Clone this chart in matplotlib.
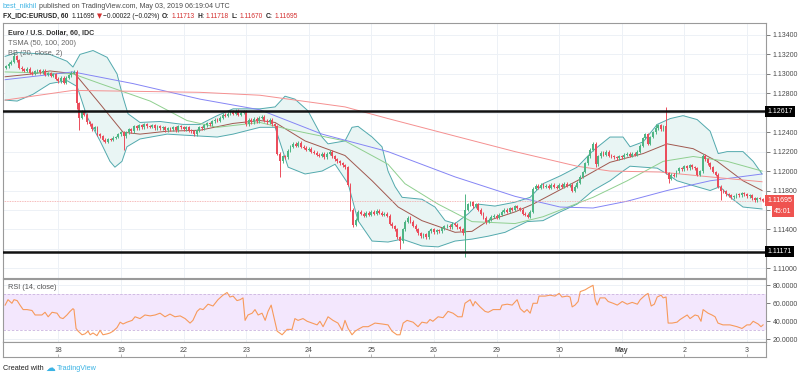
import numpy as np
import matplotlib
matplotlib.use('Agg')
import matplotlib.pyplot as plt
from matplotlib.transforms import blended_transform_factory

plt.rcParams['font.family'] = ['Liberation Sans', 'DejaVu Sans']

# hourly closes, bar index 0 = 18 Apr 00:00 (first bar -20 = 17 Apr 04:00)
closes_17 = [1.13080, 1.13105, 1.13125, 1.13180, 1.13140, 1.13065, 1.13045, 1.13030, 1.13055, 1.13010,
             1.13000, 1.13025, 1.13040, 1.13015, 1.13030, 1.12990, 1.13005, 1.12980, 1.12995, 1.12950]
closes_18 = [1.12925, 1.12960, 1.12910, 1.12960, 1.12985, 1.13010, 1.13020, 1.12700, 1.12550, 1.12610,
             1.12580, 1.12500, 1.12480, 1.12430, 1.12450, 1.12380, 1.12360, 1.12320, 1.12300, 1.12330,
             1.12320, 1.12345, 1.12350, 1.12380]
closes_19 = [1.12400, 1.12360, 1.12400, 1.12430, 1.12410, 1.12460, 1.12440, 1.12470, 1.12450, 1.12480,
             1.12460, 1.12455, 1.12470, 1.12440, 1.12460, 1.12440, 1.12450, 1.12420, 1.12440, 1.12430,
             1.12450, 1.12420, 1.12460, 1.12450]
closes_22 = [1.12430, 1.12450, 1.12420, 1.12410, 1.12380, 1.12420, 1.12450, 1.12440, 1.12470, 1.12490,
             1.12480, 1.12510, 1.12530, 1.12520, 1.12550, 1.12580, 1.12570, 1.12590, 1.12610, 1.12590,
             1.12620, 1.12580, 1.12600, 1.12610]
closes_23 = [1.12480, 1.12530, 1.12500, 1.12540, 1.12510, 1.12550, 1.12560, 1.12520, 1.12500, 1.12530,
             1.12480, 1.12460, 1.12180, 1.12100, 1.12150, 1.12140, 1.12210, 1.12250, 1.12280, 1.12260,
             1.12290, 1.12250, 1.12240, 1.12220]
closes_24 = [1.12230, 1.12200, 1.12190, 1.12170, 1.12160, 1.12180, 1.12140, 1.12180, 1.12200, 1.12150,
             1.12120, 1.12100, 1.12080, 1.12060, 1.12040, 1.11860, 1.11600, 1.11450, 1.11500, 1.11580,
             1.11560, 1.11540, 1.11570, 1.11550]
closes_25 = [1.11580, 1.11560, 1.11590, 1.11570, 1.11550, 1.11560, 1.11540, 1.11460, 1.11430, 1.11400,
             1.11320, 1.11280, 1.11400, 1.11480, 1.11520, 1.11480, 1.11440, 1.11400, 1.11360, 1.11330,
             1.11350, 1.11320, 1.11380, 1.11400]
closes_26 = [1.11370, 1.11390, 1.11380, 1.11410, 1.11430, 1.11440, 1.11420, 1.11460, 1.11450, 1.11420,
             1.11400, 1.11360, 1.11600, 1.11660, 1.11680, 1.11640, 1.11660, 1.11600, 1.11560, 1.11520,
             1.11480, 1.11500, 1.11530, 1.11540]
closes_29 = [1.11520, 1.11550, 1.11580, 1.11600, 1.11580, 1.11620, 1.11600, 1.11640, 1.11620, 1.11600,
             1.11560, 1.11550, 1.11530, 1.11580, 1.11820, 1.11850, 1.11830, 1.11860, 1.11840, 1.11850,
             1.11830, 1.11860, 1.11840, 1.11830]
closes_30 = [1.11860, 1.11840, 1.11870, 1.11850, 1.11860, 1.11800, 1.11840, 1.11880, 1.11940, 1.11990,
             1.12080, 1.12150, 1.12220, 1.12280, 1.12070, 1.12150, 1.12190, 1.12170, 1.12200, 1.12160,
             1.12150, 1.12140, 1.12130, 1.12150]
closes_01 = [1.12140, 1.12170, 1.12180, 1.12160, 1.12180, 1.12170, 1.12200, 1.12260, 1.12340, 1.12380,
             1.12280, 1.12350, 1.12400, 1.12440, 1.12470, 1.12430, 1.12460, 1.11980, 1.11920, 1.11960,
             1.11950, 1.12000, 1.12030, 1.12020]
closes_02 = [1.12050, 1.12030, 1.12060, 1.12040, 1.12030, 1.11960, 1.12000, 1.12160, 1.12120, 1.12080,
             1.12040, 1.11990, 1.11960, 1.11840, 1.11800, 1.11790, 1.11760, 1.11750, 1.11730, 1.11740,
             1.11760, 1.11750, 1.11770, 1.11760]
closes_03 = [1.11740, 1.11750, 1.11720, 1.11700, 1.11720, 1.11713, 1.11695]
first_open = 1.13060

# notable wicks (bar index -> price)
spike_high = {-17: 1.13215, 7: 1.13040, 156: 1.11760, 205: 1.12300, 229: 1.12480, 233: 1.12660}
spike_low = {7: 1.12640, 8: 1.12420, 25: 1.12220, 85: 1.11940, 113: 1.11420, 131: 1.11200,
             156: 1.11120, 164: 1.11460, 206: 1.12040, 234: 1.11880, 254: 1.11700}

# Bollinger bands (20, close, 2) and TSMA lines (bar index, price)
bb_up_x = [-20.4, -15.8, -3.2, 3.3, 5.6, 8.3, 13.3, 18.7, 22.5, 24.8, 26.7, 31.3, 39.0, 47.8, 54.3,
           60.9, 67.0, 77.3, 83.1, 86.9, 90.7, 95.7, 101.1, 103.4, 109.9, 112.6, 114.9, 120.3, 124.1,
           126.4, 129.1, 131.8, 139.4, 144.4, 148.3, 152.1, 157.1, 160.9, 167.4, 175.1, 180.9, 185.8,
           192.4, 198.9, 205.0, 211.5, 216.5, 219.2, 224.2, 229.6, 234.6, 239.5, 244.9, 249.9, 253.0,
           256.4, 262.5, 266.4, 269.8]
bb_up = [1.1318, 1.1322, 1.1320, 1.1313, 1.1307, 1.1320, 1.1324, 1.1317, 1.1300, 1.1276, 1.1259,
         1.1250, 1.1251, 1.1248, 1.1248, 1.1257, 1.1264, 1.1264, 1.1266, 1.1277, 1.1274, 1.1262,
         1.1235, 1.1228, 1.1231, 1.1245, 1.1246, 1.1235, 1.1225, 1.1200, 1.1184, 1.1173, 1.1171,
         1.1163, 1.1149, 1.1146, 1.1156, 1.1166, 1.1164, 1.1168, 1.1173, 1.1187, 1.1195, 1.1204,
         1.1221, 1.1235, 1.1235, 1.1225, 1.1230, 1.1248, 1.1254, 1.1257, 1.1253, 1.1241, 1.1218,
         1.1220, 1.1220, 1.1210, 1.1197]
bb_lo_x = [-20.4, -15.8, -9.7, -3.2, 3.3, 7.2, 11.0, 16.0, 19.8, 21.7, 24.4, 26.3, 31.3, 41.7, 54.3,
           60.9, 67.0, 77.3, 83.1, 88.1, 94.6, 101.1, 106.1, 111.1, 114.9, 120.3, 126.4, 131.8, 139.4,
           145.6, 152.1, 158.6, 164.8, 171.3, 175.1, 179.7, 185.8, 192.4, 198.9, 205.0, 211.5, 216.5,
           219.2, 224.2, 229.6, 233.4, 237.2, 243.4, 249.9, 253.7, 257.6, 262.5, 269.8]
bb_lo = [1.1273, 1.1272, 1.1279, 1.1290, 1.1293, 1.1287, 1.1256, 1.1231, 1.1210, 1.1204, 1.1210,
         1.1225, 1.1233, 1.1238, 1.1236, 1.1235, 1.1238, 1.1245, 1.1245, 1.1204, 1.1197, 1.1200,
         1.1207, 1.1187, 1.1149, 1.1128, 1.1127, 1.1130, 1.1123, 1.1122, 1.1128, 1.1130, 1.1133,
         1.1137, 1.1142, 1.1148, 1.1149, 1.1158, 1.1166, 1.1180, 1.1190, 1.1200, 1.1205, 1.1204,
         1.1203, 1.1197, 1.1190, 1.1185, 1.1180, 1.1184, 1.1173, 1.1163, 1.1161]
bb_mid_x = [-20.4, -9.7, -3.2, 6.4, 16.0, 24.8, 31.3, 41.7, 54.3, 67.0, 77.3, 83.1, 94.6, 109.9,
            120.3, 130.3, 139.4, 152.1, 158.6, 164.8, 175.1, 182.0, 198.9, 211.5, 224.2, 233.4, 243.4,
            252.6, 262.5, 269.8]
bb_mid = [1.1297, 1.1300, 1.1303, 1.1300, 1.1269, 1.1240, 1.1238, 1.1241, 1.1242, 1.1249, 1.1252,
          1.1250, 1.1231, 1.1216, 1.1190, 1.1163, 1.1149, 1.1137, 1.1138, 1.1149, 1.1158, 1.1166,
          1.1190, 1.1209, 1.1218, 1.1228, 1.1223, 1.1210, 1.1190, 1.1180]
ma50_x = [-20.4, 5.6, 16.0, 35.2, 49.3, 60.9, 77.3, 88.1, 109.9, 126.4, 132.9, 145.6, 158.6, 175.1,
          185.8, 205.0, 218.1, 231.9, 243.4, 256.4, 269.8]
ma50 = [1.1302, 1.1300, 1.1290, 1.1272, 1.1252, 1.1245, 1.1250, 1.1243, 1.1231, 1.1207, 1.1187,
        1.1166, 1.1148, 1.1146, 1.1153, 1.1173, 1.1190, 1.1210, 1.1215, 1.1210, 1.1200]
ma100_x = [-20.4, 5.6, 28.6, 54.3, 77.3, 101.1, 126.4, 152.1, 175.1, 192.4, 205.0, 218.1, 233.4,
           249.9, 269.8]
ma100 = [1.1294, 1.1302, 1.1290, 1.1274, 1.1263, 1.1238, 1.1220, 1.1194, 1.1174, 1.1163, 1.1162,
         1.1169, 1.1180, 1.1190, 1.1197]
ma200_x = [-20.4, 5.6, 54.3, 77.3, 109.9, 126.4, 152.1, 175.1, 198.9, 211.5, 230.7, 249.9, 269.8]
ma200 = [1.1273, 1.1283, 1.1281, 1.1278, 1.1266, 1.1254, 1.1236, 1.1220, 1.1205, 1.1200, 1.1199,
         1.1194, 1.1189]

# RSI (14, close)
rsi_x = [-20.4, -19.3, -17.8, -17.0, -15.8, -14.7, -13.5, -12.0, -10.1, -8.9, -6.3, -5.1, -3.9, -2.4,
         -0.5, 0.7, 1.8, 3.3, 4.5, 5.6, 6.0, 6.8, 7.6, 9.1, 10.2, 11.4, 12.2, 13.3, 14.8, 16.0, 17.1,
         18.7, 19.8, 21.0, 22.5, 23.7, 24.8, 26.3, 28.3, 29.4, 31.3, 33.2, 35.2, 37.1, 39.0, 40.9,
         42.8, 44.7, 46.7, 48.6, 50.5, 51.6, 53.2, 54.3, 55.5, 57.4, 59.3, 61.2, 63.1, 64.7, 65.8,
         67.0, 68.5, 69.7, 70.8, 71.6, 72.7, 74.3, 75.4, 76.6, 78.1, 79.3, 80.4, 81.6, 82.3, 83.9,
         85.8, 87.7, 89.6, 90.7, 91.9, 93.8, 95.4, 97.3, 99.2, 100.3, 101.5, 103.4, 105.3, 107.2,
         108.8, 109.9, 111.1, 112.6, 113.8, 114.9, 116.8, 118.8, 121.4, 124.1, 126.4, 127.9, 129.8,
         131.0, 132.2, 133.7, 136.0, 137.9, 139.4, 141.3, 142.5, 143.6, 145.6, 147.5, 149.4, 151.3,
         153.2, 154.8, 155.9, 157.9, 159.0, 159.8, 161.7, 163.6, 164.8, 166.7, 169.4, 170.1, 172.1,
         174.0, 175.9, 177.1, 178.6, 179.7, 180.9, 182.0, 183.6, 184.3, 186.6, 188.5, 190.4, 192.0,
         193.1, 195.1, 196.2, 197.0, 198.1, 199.3, 200.1, 202.0, 203.1, 205.0, 205.8, 206.6, 207.7,
         209.6, 210.8, 212.7, 214.3, 216.2, 218.1, 220.0, 222.0, 223.1, 225.0, 226.1, 227.3, 228.5,
         229.6, 231.1, 231.9, 233.0, 233.8, 235.3, 237.2, 238.4, 239.5, 241.1, 242.2, 244.1, 245.3,
         246.4, 247.2, 249.1, 250.6, 251.8, 252.9, 254.8, 257.5, 260.2, 262.1, 264.0, 265.2, 266.4,
         268.3, 269.4, 270.2]
rsi_val = [58, 64, 60, 64, 63, 58, 53, 53, 52, 47, 47, 50, 45, 50, 49, 44, 43, 47, 51, 54, 53, 32,
           29, 25, 26, 29, 25, 27, 24, 30, 25, 26, 27, 29, 33, 39, 37, 39, 41, 45, 43, 47, 46, 47,
           49, 45, 48, 45, 46, 43, 38, 41, 51, 54, 53, 59, 57, 64, 69, 72, 67, 68, 63, 64, 66, 41,
           47, 49, 53, 47, 49, 41, 51, 58, 49, 29, 25, 31, 31, 43, 41, 43, 40, 38, 36, 40, 34, 45,
           41, 38, 30, 41, 32, 25, 29, 31, 34, 34, 38, 37, 36, 29, 25, 25, 38, 41, 39, 34, 39, 38,
           42, 40, 45, 44, 51, 49, 45, 45, 60, 64, 57, 62, 56, 51, 50, 53, 53, 58, 59, 58, 64, 54,
           50, 53, 49, 60, 60, 68, 68, 69, 68, 71, 67, 68, 67, 56, 58, 62, 73, 75, 77, 80, 64, 58,
           66, 66, 62, 60, 58, 62, 59, 61, 59, 64, 69, 71, 57, 59, 67, 69, 66, 67, 38, 38, 39, 42,
           44, 47, 43, 47, 46, 40, 53, 49, 47, 45, 38, 36, 36, 34, 32, 36, 36, 40, 37, 34, 36]

date_pos = [0, 24, 48, 72, 96, 120, 144, 168, 192, 216, 240, 264]
date_labels = ['18', '19', '22', '23', '24', '25', '26', '29', '30', 'May', '2', '3']
price_ticks = [1.110, 1.112, 1.114, 1.116, 1.118, 1.120, 1.122, 1.124, 1.126, 1.128, 1.130, 1.132, 1.134]
level_hi, level_lo, last_price = 1.12617, 1.11171, 1.11695

closes = np.array(closes_17 + closes_18 + closes_19 + closes_22 + closes_23 + closes_24 + closes_25
                  + closes_26 + closes_29 + closes_30 + closes_01 + closes_02 + closes_03)
idx = np.arange(-20, -20 + len(closes))
opens = np.r_[first_open, closes[:-1]]
highs = np.maximum(opens, closes) + 0.00015
lows = np.minimum(opens, closes) - 0.00015
for k, v in spike_high.items():
    highs[k + 20] = v
for k, v in spike_low.items():
    lows[k + 20] = v

UP, DOWN = '#4fb585', '#eb4d5c'
GRID = '#edf1f6'
FRAME = '#9a9a9a'
TXT = '#4a4a4a'

W, H = 800, 378
def box(l, t, r, b):
    return [l / W, 1 - b / H, (r - l) / W, (b - t) / H]

fig = plt.figure(figsize=(8, 3.78), dpi=100)
ax = fig.add_axes(box(3.3, 23.3, 765.7, 278))
ax_rsi = fig.add_axes(box(3.3, 279, 765.7, 341.7), sharex=ax)
ax_d = fig.add_axes(box(3.3, 341.7, 765.7, 357), sharex=ax)

# main pane
ax.set_xlim(-21.1, 271.2)
ax.set_ylim(1.1090, 1.1352)
for p in date_pos:
    ax.axvline(p, color=GRID, lw=0.7, zorder=0)
    ax_rsi.axvline(p, color=GRID, lw=0.7, zorder=0)
for p in price_ticks:
    ax.axhline(p, color=GRID, lw=0.7, zorder=0)

ax.fill(bb_up_x + bb_lo_x[::-1], bb_up + bb_lo[::-1], color='#e9f5f4', zorder=1, lw=0)
ax.plot(bb_up_x, bb_up, color='#52a9ad', lw=0.7, zorder=2)
ax.plot(bb_lo_x, bb_lo, color='#52a9ad', lw=0.7, zorder=2)
ax.plot(bb_mid_x, bb_mid, color='#a0584f', lw=0.7, zorder=2)
ax.plot(ma50_x, ma50, color='#8fcf8f', lw=0.7, zorder=2)
ax.plot(ma100_x, ma100, color='#8585f5', lw=0.7, zorder=2)
ax.plot(ma200_x, ma200, color='#f59090', lw=0.7, zorder=2)

cols = np.where(closes >= opens, UP, DOWN)
ax.vlines(idx, lows, highs, colors=cols, lw=0.7, zorder=3)
ax.bar(idx, np.maximum(np.abs(closes - opens), 0.00003), bottom=np.minimum(opens, closes),
       width=0.72, color=cols, lw=0, zorder=4)

ax.axhline(level_hi, color='#111111', lw=1.8, zorder=5)
ax.axhline(level_lo, color='#111111', lw=1.8, zorder=5)
ax.axhline(last_price, color='#f3a3a3', lw=0.6, ls=(0, (1, 1)), zorder=2)

ax.yaxis.tick_right()
ax.set_yticks(price_ticks)
hidden = {1.112, 1.116, 1.126}
ax.set_yticklabels(['' if p in hidden else '%.5f' % p for p in price_ticks])
ax.tick_params(axis='y', labelsize=5, colors=TXT, length=3, pad=2, width=0.5)
ax.tick_params(axis='x', bottom=False, labelbottom=False)

tr = blended_transform_factory(ax.transAxes, ax.transData)
for val, fc in [(level_hi, '#000000'), (level_lo, '#000000'), (last_price, '#ef5350')]:
    ax.text(1.002, val, '%.5f' % val, transform=tr, fontsize=5, color='white', va='center', ha='left',
            clip_on=False, zorder=10,
            bbox=dict(boxstyle='square,pad=0.3', fc=fc, ec='none'))
ax.text(1.011, last_price - 0.0011, '45:01', transform=tr, fontsize=5, color='white', va='center',
        ha='left', clip_on=False, zorder=10, bbox=dict(boxstyle='square,pad=0.3', fc='#ef5350', ec='none'))

ax.text(0.006, 0.961, 'Euro / U.S. Dollar, 60, IDC', transform=ax.transAxes, fontsize=5.1,
        color='#333333', fontweight='bold', va='center')
ax.text(0.006, 0.922, 'TSMA (50, 100, 200)', transform=ax.transAxes, fontsize=5.3, color='#666666',
        va='center')
ax.text(0.006, 0.883, 'BB (20, close, 2)', transform=ax.transAxes, fontsize=5.3, color='#666666',
        va='center')

# RSI pane
ax_rsi.set_ylim(17.3, 87)
for p in [20, 40, 60, 80]:
    ax_rsi.axhline(p, color=GRID, lw=0.7, zorder=0)
ax_rsi.axhspan(30, 70, color='#f3e7fd', zorder=1, lw=0)
ax_rsi.axhline(70, color='#cbb4df', lw=0.6, ls=(0, (3, 2)), zorder=2)
ax_rsi.axhline(30, color='#cbb4df', lw=0.6, ls=(0, (3, 2)), zorder=2)
ax_rsi.plot(rsi_x, rsi_val, color='#f79a5b', lw=0.8, zorder=3)
ax_rsi.yaxis.tick_right()
ax_rsi.set_yticks([20, 40, 60, 80])
ax_rsi.set_yticklabels(['20.0000', '40.0000', '60.0000', '80.0000'])
ax_rsi.tick_params(axis='y', labelsize=5, colors=TXT, length=3, pad=2, width=0.5)
ax_rsi.tick_params(axis='x', bottom=False, labelbottom=False)
ax_rsi.text(0.006, 0.86, 'RSI (14, close)', transform=ax_rsi.transAxes, fontsize=5.3, color='#555555',
            va='center')

# date strip
ax_d.set_yticks([])
ax_d.set_xticks(date_pos)
ax_d.tick_params(axis='x', direction='in', length=2, width=0.5, colors=FRAME, labelbottom=False)
for p, lab in zip(date_pos, date_labels):
    ax_d.text(p, 0.45, lab, fontsize=5, color=TXT, ha='center', va='center',
              fontweight='bold' if lab == 'May' else 'normal',
              transform=blended_transform_factory(ax_d.transData, ax_d.transAxes))

for a in (ax, ax_rsi, ax_d):
    for s in a.spines.values():
        s.set_color(FRAME)
        s.set_linewidth(0.8)

# header / footer, pieces laid out one after another
renderer = fig.canvas.get_renderer()
def chain(x, y, parts, size):
    for s, gap, kw in parts:
        kw = dict(kw)
        kw.setdefault('fontsize', size)
        t = fig.text(x / W, 1 - y / H, s, va='center', ha='left', **kw)
        x = t.get_window_extent(renderer).x1 + gap

DARK = '#222222'
RED = '#d32f2f'
BOLD = dict(color=DARK, fontweight='bold')
chain(3, 6, [('best_nikhil', 2, dict(color='#3bb3e4')),
             ('published on TradingView.com, May 03, 2019 06:19:04 UTC', 0, dict(color=TXT))], 5.1)
chain(3, 16, [('FX_IDC:EURUSD, 60', 3, BOLD),
              ('1.11695', 2, dict(color=DARK)),
              ('▼', 1, dict(color=RED, family=['DejaVu Sans'])),
              ('−0.00022 (−0.02%)', 3, dict(color=DARK)),
              ('O:', 1.5, BOLD), ('1.11713', 3, dict(color=RED)),
              ('H:', 1.5, BOLD), ('1.11718', 3, dict(color=RED)),
              ('L:', 1.5, BOLD), ('1.11670', 3, dict(color=RED)),
              ('C:', 1.5, BOLD), ('1.11695', 0, dict(color=RED))], 4.8)
chain(3, 368, [('Created with', 2, dict(color=DARK)),
               ('☁', 1, dict(color='#3bb3e4', family=['DejaVu Sans'], fontsize=7)),
               ('TradingView', 0, dict(color='#3bb3e4'))], 5.2)

fig.savefig('out.png', dpi=100, facecolor='white')
